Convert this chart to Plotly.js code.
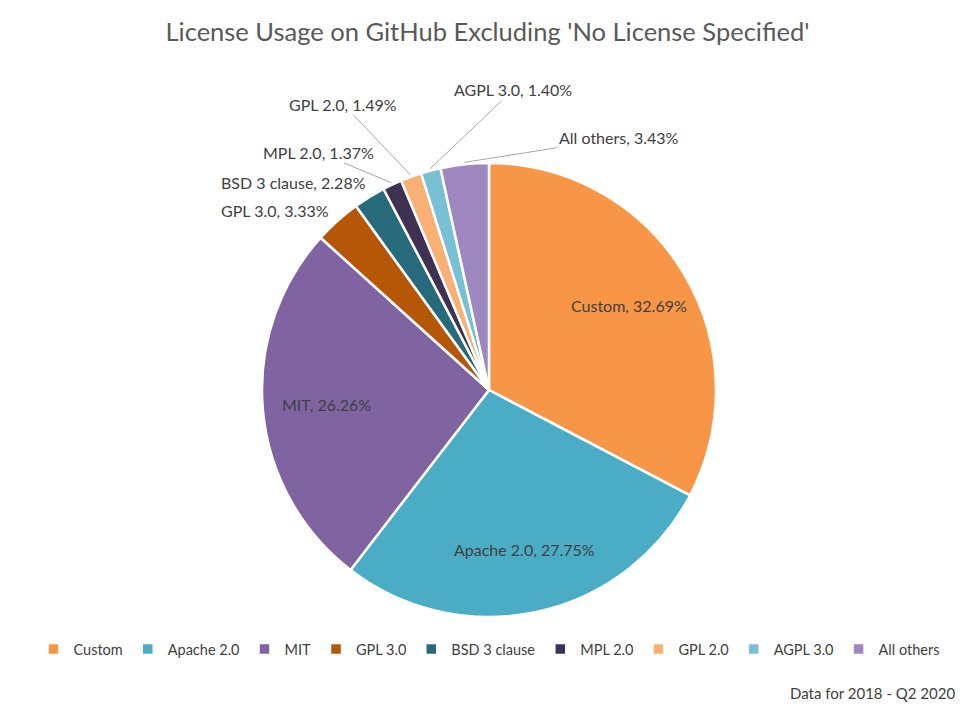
<!DOCTYPE html>
<html>
<head>
<meta charset="utf-8">
<script src="https://cdn.plot.ly/plotly-3.0.1.min.js"></script>
<style>
  html, body { margin: 0; padding: 0; background: #fff; }
  #license_pie { width: 975px; height: 719px; }
</style>
</head>
<body>
<div id="license_pie"></div>
<script>
var licenses = ['Custom', 'Apache 2.0', 'MIT', 'GPL 3.0', 'BSD 3 clause', 'MPL 2.0', 'GPL 2.0', 'AGPL 3.0', 'All others']
var shares = [32.69, 27.75, 26.26, 3.33, 2.28, 1.37, 1.49, 1.40, 3.43]
var slice_colors = ['#f79646', '#4bacc6', '#8064a2', '#b65708', '#276a7c', '#3f3151', '#f9b074', '#78c0d4', '#9f88bf']

// where the outside labels sit (pixels), null = label inside the slice
var label_pos = [null, null, null, [275, 210], [293, 182], [318, 152], [343, 104], [513, 90], [619, 138]]
var label_line = [false, false, false, false, false, true, true, true, true]

// plot area spans the full width, pie sits in its own domain
var mg = {l: 0, r: 0, t: 163, b: 102, autoexpand: false}
var W = 975 - mg.l - mg.r, H = 719 - mg.t - mg.b
var pie_left = 262, pie_right = 716
var cx = (pie_left + pie_right) / 2, cy = mg.t + H / 2, R = Math.min(pie_right - pie_left, H) / 2

function px2paper(x, y) {
    return [(x - mg.l) / W, (719 - mg.b - y) / H]
}

var label_font = {size: 16, color: '#404040'}
var total = shares.reduce(function (a, b) { return a + b }, 0)
var annotations = []
var cum = 0
for (i = 0; i < shares.length; i++) {
    var mid = (cum + shares[i] / 2) / total * 2 * Math.PI
    cum += shares[i]
    var txt = licenses[i] + ', ' + shares[i].toFixed(2) + '%'
    if (!label_pos[i]) {
        // inside label, along the middle of the slice
        var p = px2paper(cx + 0.72 * R * Math.sin(mid), cy - 0.72 * R * Math.cos(mid))
        annotations.push({
            x: p[0], y: p[1], xref: 'paper', yref: 'paper',
            xanchor: 'center', yanchor: 'middle',
            text: txt, showarrow: false, font: label_font
        })
        continue
    }
    var hx = cx + (R + 2) * Math.sin(mid), hy = cy - (R + 2) * Math.cos(mid)
    if (label_line[i]) {
        var p = px2paper(hx, hy)
        annotations.push({
            x: p[0], y: p[1], xref: 'paper', yref: 'paper',
            text: txt, showarrow: true, arrowhead: 0, arrowwidth: 1,
            arrowcolor: '#a6a6a6',
            ax: label_pos[i][0] - hx, ay: label_pos[i][1] - hy,
            font: label_font
        })
    } else {
        var p = px2paper(label_pos[i][0], label_pos[i][1])
        annotations.push({
            x: p[0], y: p[1], xref: 'paper', yref: 'paper',
            xanchor: 'center', yanchor: 'middle',
            text: txt, showarrow: false, font: label_font
        })
    }
}

var note = px2paper(957, 693)
annotations.push({
    x: note[0], y: note[1], xref: 'paper', yref: 'paper',
    xanchor: 'right', yanchor: 'middle', showarrow: false,
    text: 'Data for 2018 - Q2 2020',
    font: {size: 15, color: '#404040'}
})

var data = [{
    type: 'pie',
    labels: licenses,
    values: shares,
    sort: false,
    direction: 'clockwise',
    rotation: 0,
    domain: {x: [pie_left / W, pie_right / W], y: [0, 1]},
    marker: {colors: slice_colors, line: {color: '#ffffff', width: 2.5}},
    textinfo: 'none',
    hoverinfo: 'label+percent'
}]

var leg = px2paper(489, 633)
var layout = {
    width: 975,
    height: 719,
    margin: mg,
    paper_bgcolor: '#ffffff',
    font: {family: 'Lato, "Open Sans", sans-serif', color: '#404040'},
    title: {
        text: "License Usage on GitHub Excluding 'No License Specified'",
        font: {size: 25.5, color: '#595959'},
        x: 0.5, xref: 'paper', y: 0.955, yref: 'container', yanchor: 'middle'
    },
    showlegend: true,
    legend: {
        orientation: 'h',
        x: leg[0], xanchor: 'center',
        y: leg[1], yanchor: 'top',
        font: {size: 14.5, color: '#404040'},
        itemwidth: 30,
        traceorder: 'normal'
    },
    annotations: annotations
}

Plotly.newPlot('license_pie', data, layout, {displayModeBar: false, staticPlot: true})
</script>
</body>
</html>
